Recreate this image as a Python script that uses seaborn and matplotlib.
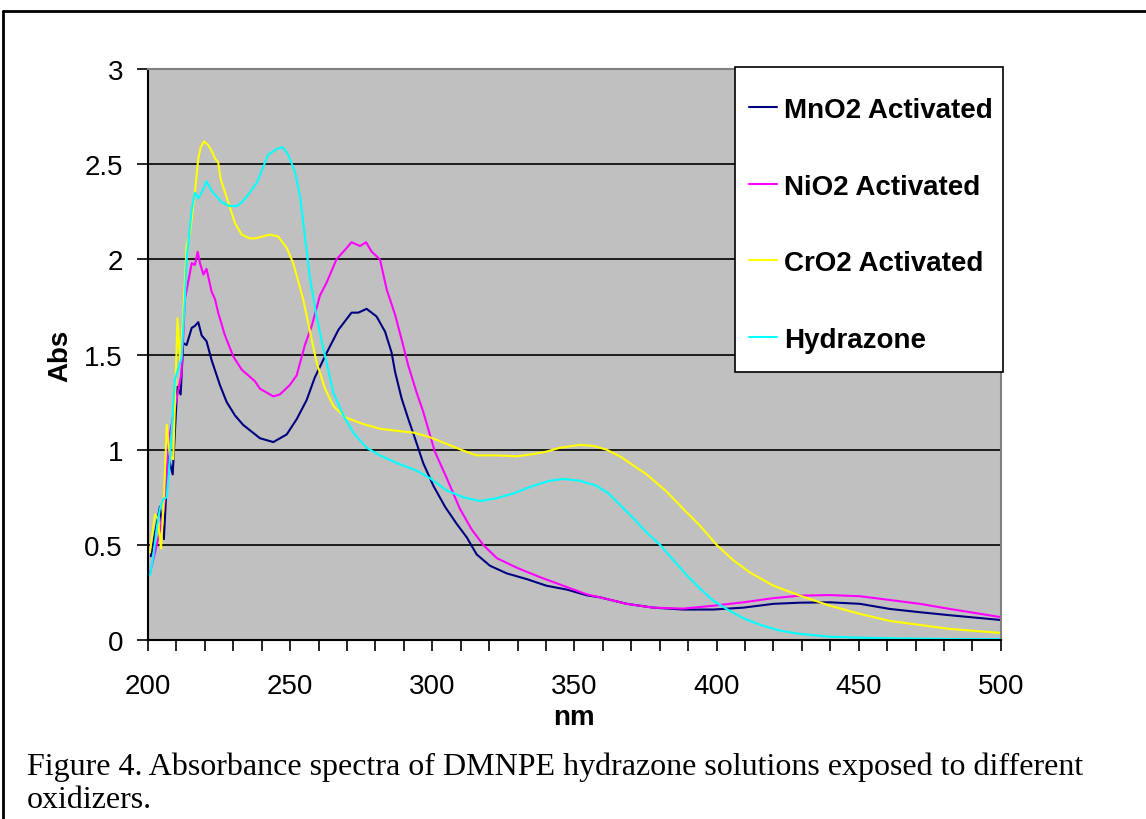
import pandas as pd
import matplotlib
matplotlib.use('Agg')
import matplotlib.pyplot as plt
import seaborn as sns
from matplotlib.lines import Line2D
from matplotlib.patches import Rectangle
from matplotlib.ticker import MultipleLocator, FuncFormatter

sns.set_style('white')
plt.rcParams['font.family'] = ['Liberation Sans', 'DejaVu Sans']
plt.rcParams['text.color'] = 'black'
plt.rcParams['axes.labelcolor'] = 'black'
plt.rcParams['xtick.color'] = 'black'
plt.rcParams['ytick.color'] = 'black'

# %%
# spectra (nm, Abs)
mno2_nm = [201.0, 202.7, 204.2, 205.6, 207.1, 208.7, 210.3, 211.5, 212.4, 213.6, 215.4, 216.5,
           217.7, 218.9, 220.6, 222.4, 225.3, 227.7, 230.6, 233.5, 239.4, 244.1, 248.8, 252.3,
           255.8, 258.7, 262.9, 267.0, 271.6, 274.0, 276.9, 280.4, 283.4, 285.7, 286.9, 289.2,
           291.6, 293.9, 296.8, 300.4, 304.5, 308.6, 312.1, 315.6, 320.3, 326.2, 333.2, 340.2,
           347.3, 354.3, 359.0, 368.4, 377.7, 388.3, 398.8, 409.4, 420.0, 429.3, 439.9, 450.4,
           461.0, 471.5, 482.1, 500.0]
mno2_abs = [0.44, 0.58, 0.70, 0.53, 0.97, 0.87, 1.33, 1.29, 1.56, 1.55, 1.64, 1.65,
            1.67, 1.60, 1.57, 1.47, 1.34, 1.25, 1.18, 1.13, 1.06, 1.04, 1.08, 1.16,
            1.26, 1.38, 1.51, 1.63, 1.72, 1.72, 1.74, 1.70, 1.62, 1.51, 1.41, 1.27,
            1.16, 1.06, 0.93, 0.81, 0.70, 0.61, 0.54, 0.45, 0.39, 0.35, 0.32, 0.285,
            0.265, 0.235, 0.224, 0.19, 0.17, 0.16, 0.16, 0.17, 0.19, 0.196, 0.198, 0.19,
            0.163, 0.146, 0.13, 0.105]

nio2_nm = [200.7, 203.1, 204.6, 206.0, 207.5, 210.1, 211.8, 213.0, 215.4, 216.5, 217.5, 218.3,
           219.5, 220.6, 222.4, 223.6, 224.7, 227.1, 230.0, 233.0, 237.6, 239.4, 244.1, 246.4,
           249.9, 252.3, 255.2, 257.6, 260.5, 262.9, 266.3, 269.9, 271.6, 274.6, 276.7, 278.7,
           281.6, 284.0, 286.9, 289.2, 291.6, 294.5, 296.8, 300.9, 305.1, 309.7, 313.9, 317.9,
           322.7, 329.7, 337.9, 346.1, 354.3, 359.0, 368.4, 377.7, 388.3, 398.8, 409.4, 420.0,
           429.3, 439.9, 450.4, 461.0, 471.5, 482.1, 500.0]
nio2_abs = [0.35, 0.50, 0.60, 0.74, 1.07, 1.27, 1.40, 1.79, 1.98, 1.97, 2.04, 1.98,
            1.92, 1.95, 1.83, 1.79, 1.72, 1.60, 1.49, 1.42, 1.36, 1.32, 1.28, 1.29,
            1.34, 1.39, 1.55, 1.65, 1.81, 1.88, 2.00, 2.06, 2.09, 2.07, 2.09, 2.04,
            2.00, 1.84, 1.71, 1.58, 1.44, 1.30, 1.20, 0.99, 0.85, 0.69, 0.58, 0.50,
            0.43, 0.38, 0.33, 0.285, 0.24, 0.224, 0.19, 0.17, 0.165, 0.18, 0.198, 0.22,
            0.233, 0.236, 0.23, 0.21, 0.19, 0.163, 0.12]

cro2_nm = [200.7, 202.5, 203.4, 204.6, 205.6, 206.6, 207.7, 208.9, 210.4, 211.3, 212.4, 213.6,
           214.8, 216.5, 217.7, 218.6, 219.7, 221.2, 222.4, 223.6, 224.7, 225.6, 227.6, 230.6,
           233.0, 235.9, 237.6, 242.9, 245.8, 248.8, 251.1, 254.6, 257.0, 259.3, 262.3, 265.2,
           269.3, 275.7, 281.6, 289.8, 293.3, 299.2, 305.1, 310.9, 315.6, 322.7, 329.7, 335.5,
           340.2, 344.9, 351.9, 356.6, 361.3, 366.0, 375.4, 382.4, 389.5, 394.2, 400.0, 405.8,
           411.7, 420.0, 429.3, 439.9, 450.4, 461.0, 471.5, 482.1, 500.0]
cro2_abs = [0.46, 0.66, 0.64, 0.48, 0.74, 1.13, 0.97, 0.95, 1.69, 1.46, 1.70, 2.07,
            2.14, 2.35, 2.53, 2.59, 2.62, 2.60, 2.57, 2.53, 2.51, 2.42, 2.33, 2.19,
            2.13, 2.11, 2.11, 2.13, 2.12, 2.06, 1.98, 1.79, 1.62, 1.46, 1.32, 1.23,
            1.17, 1.135, 1.11, 1.095, 1.09, 1.065, 1.03, 0.995, 0.97, 0.97, 0.965, 0.977,
            0.99, 1.01, 1.025, 1.02, 1.00, 0.965, 0.87, 0.78, 0.67, 0.60, 0.50, 0.42,
            0.355, 0.285, 0.233, 0.18, 0.137, 0.10, 0.079, 0.058, 0.037]

hyd_nm = [200.7, 201.9, 203.1, 204.2, 205.4, 206.6, 207.7, 209.5, 211.8, 213.0, 213.6, 215.4,
          216.5, 217.7, 219.5, 220.6, 222.4, 224.2, 225.9, 228.8, 231.2, 233.0, 235.3, 238.2,
          242.3, 245.3, 247.4, 249.3, 251.7, 253.5, 257.0, 259.3, 261.7, 265.2, 268.7, 272.2,
          276.9, 281.6, 287.5, 294.5, 299.2, 305.1, 310.9, 316.8, 322.7, 328.5, 335.5, 341.4,
          346.1, 351.9, 357.8, 362.0, 366.0, 370.7, 375.4, 380.1, 384.8, 389.5, 394.2, 398.8,
          403.5, 409.4, 415.3, 422.3, 429.3, 439.9, 450.4, 461.0, 482.0, 500.0]
hyd_abs = [0.34, 0.44, 0.59, 0.69, 0.74, 0.75, 0.95, 1.37, 1.48, 1.79, 2.00, 2.26,
           2.35, 2.32, 2.37, 2.41, 2.36, 2.33, 2.30, 2.28, 2.28, 2.30, 2.34, 2.40,
           2.55, 2.58, 2.59, 2.55, 2.46, 2.33, 1.90, 1.70, 1.53, 1.30, 1.18, 1.09,
           1.01, 0.97, 0.93, 0.89, 0.85, 0.785, 0.75, 0.73, 0.745, 0.77, 0.81, 0.837,
           0.846, 0.837, 0.81, 0.77, 0.71, 0.64, 0.565, 0.50, 0.42, 0.34, 0.27, 0.207,
           0.163, 0.114, 0.08, 0.049, 0.032, 0.017, 0.012, 0.009, 0.005, 0.005]

series = ['MnO2 Activated', 'NiO2 Activated', 'CrO2 Activated', 'Hydrazone']
colors = {'MnO2 Activated': '#000080', 'NiO2 Activated': '#FF00FF',
          'CrO2 Activated': '#FFFF00', 'Hydrazone': '#00FFFF'}

caption = ['Figure 4. Absorbance spectra of DMNPE hydrazone solutions exposed to different',
           'oxidizers.']

# %%
spectra = pd.concat([
    pd.DataFrame({'nm': mno2_nm, 'Abs': mno2_abs, 'sample': series[0]}),
    pd.DataFrame({'nm': nio2_nm, 'Abs': nio2_abs, 'sample': series[1]}),
    pd.DataFrame({'nm': cro2_nm, 'Abs': cro2_abs, 'sample': series[2]}),
    pd.DataFrame({'nm': hyd_nm, 'Abs': hyd_abs, 'sample': series[3]}),
], ignore_index=True)

# %%
fig = plt.figure(figsize=(11.46, 8.2), dpi=100)
ax = fig.add_axes([0.1291, 0.2183, 0.7443, 0.6963])
ax.set_facecolor('#C0C0C0')

sns.lineplot(data=spectra, x='nm', y='Abs', hue='sample', hue_order=series,
             palette=colors, estimator=None, sort=False, linewidth=1.5, ax=ax)

ax.set_xlim(200, 500)
ax.set_ylim(0, 3)
ax.xaxis.set_major_locator(MultipleLocator(50))
ax.xaxis.set_minor_locator(MultipleLocator(10))
ax.yaxis.set_major_locator(MultipleLocator(0.5))
ax.yaxis.set_major_formatter(FuncFormatter(lambda v, p: '%g' % v))
ax.tick_params(axis='both', which='both', direction='out', length=8, width=1.2,
               color='black', labelsize=20, labelcolor='black')
ax.tick_params(axis='x', which='major', pad=16)
ax.tick_params(axis='y', which='major', pad=10)
ax.tick_params(left=True, bottom=True)
ax.tick_params(axis='x', which='minor', bottom=True)

ax.set_axisbelow(True)
ax.yaxis.grid(True, color='black', linewidth=1.2)
ax.xaxis.grid(False)
for side in ['left', 'bottom']:
    ax.spines[side].set_color('black')
    ax.spines[side].set_linewidth(1.5)
for side in ['top', 'right']:
    ax.spines[side].set_color('#808080')
    ax.spines[side].set_linewidth(1.5)

ax.set_xlabel('nm', fontsize=20, fontweight='bold', va='top', color='black')
ax.set_ylabel('Abs', fontsize=20, fontweight='bold', color='black')
ax.xaxis.set_label_coords(0.5, -0.112)
ax.yaxis.set_label_coords(-0.087, 0.5)

# legend: white box with bold entries
handles, labels = ax.get_legend_handles_labels()
ax.get_legend().remove()
ax.add_patch(Rectangle((0.688, 0.469), 0.3143, 0.5345, transform=ax.transAxes,
                       facecolor='white', edgecolor='black', linewidth=1.2,
                       clip_on=False, zorder=5))
leg = ax.legend(handles, labels, loc='upper left', bbox_to_anchor=(0.7046, 0.951),
                frameon=False, borderpad=0, borderaxespad=0, handlelength=1.0,
                handletextpad=0.25, labelspacing=1.82,
                prop={'size': 20, 'weight': 'bold'})
leg.set_zorder(6)
for h in leg.legend_handles:
    h.set_linewidth(1.5)
for t in leg.get_texts():
    t.set_color('black')

# outer figure frame and caption
fig.add_artist(Line2D([3 / 1146, 1.0], [1 - 12 / 820, 1 - 12 / 820], color='black',
                      linewidth=2, transform=fig.transFigure))
fig.add_artist(Line2D([3 / 1146, 3 / 1146], [0.0, 1 - 12 / 820], color='black',
                      linewidth=2, transform=fig.transFigure))
fig.text(27 / 1146, 1 - 775 / 820, caption[0], family=['Liberation Serif', 'DejaVu Serif'],
         fontsize=23, va='baseline', ha='left', color='black')
fig.text(27 / 1146, 1 - 808 / 820, caption[1], family=['Liberation Serif', 'DejaVu Serif'],
         fontsize=23, va='baseline', ha='left', color='black')

fig.savefig('out.png', dpi=100)
